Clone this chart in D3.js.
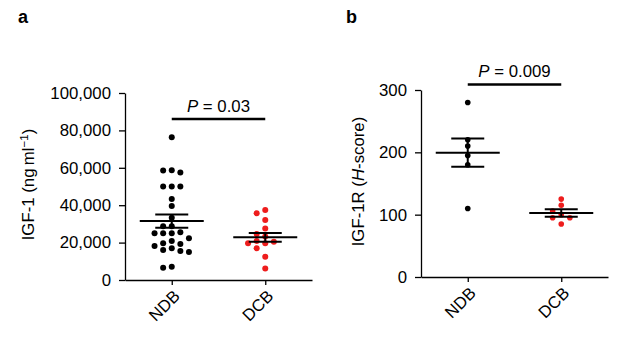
<!DOCTYPE html>
<html>
<head>
<meta charset="utf-8">
<script src="https://cdn.jsdelivr.net/npm/d3@7"></script>
<style>
  html, body { margin: 0; padding: 0; background: #fff; }
  svg { display: block; font-family: "Liberation Sans", Arial, Helvetica, sans-serif; }
</style>
</head>
<body>
<svg id="chart" width="624" height="339"></svg>
<script>
// ---------------- DATA ----------------
const categories = ["NDB", "DCB"];

// Panel a: IGF-1 (ng ml^-1)
const igf1NDB = [76300, 58700, 58500, 57500, 50000, 50000, 50000, 43300, 39600, 33300,
                 28700, 28700, 25500, 25000, 25000, 25000, 22300, 20900, 19600, 19200,
                 18200, 17000, 16000, 15500, 15000, 7100, 6600];
const igf1DCB = [37400, 35700, 32100, 27600, 24600, 23200, 20900, 20500, 19600, 19600,
                 17000, 12500, 6200];
const igf1Mean = [31500, 22800];
const igf1Sem = [3550, 2300];
const igf1Ticks = [0, 20000, 40000, 60000, 80000, 100000];
const igf1P = "0.03";

// Panel b: IGF-1R (H-score)
const igf1rNDB = [280, 220, 210, 195, 180, 110];
const igf1rDCB = [125, 115, 106, 100, 95, 95, 85];
const igf1rMean = [199.5, 102.5];
const igf1rSem = [22.7, 6];
const igf1rTicks = [0, 100, 200, 300];
const igf1rP = "0.009";

// ---------------- DRAW ----------------
const svg = d3.select("#chart");
const FONT = 16.8;

function swarm(values, y, r, colStep) {
  // greedy column beeswarm: same column collides if vertical gap too small
  const placed = [];
  const order = values.map((v, i) => i).sort((a, b) => values[b] - values[a]);
  const out = new Array(values.length);
  const minDy = 2 * r + 0.6;
  const cand = [0, -1, 1, -2, 2, -3, 3, -4, 4];
  order.forEach(i => {
    const py = y(values[i]);
    for (const c of cand) {
      const hit = placed.some(p => p.c === c && Math.abs(p.y - py) < minDy);
      if (!hit) { placed.push({c, y: py}); out[i] = {dx: c * colStep, y: py}; break; }
    }
  });
  return out;
}

function panel(cfg) {
  const g = svg.append("g");
  const x = d3.scalePoint().domain(categories).range([cfg.x0, cfg.x1]).padding(0.5);
  const y = d3.scaleLinear().domain([cfg.ticks[0], cfg.ticks[cfg.ticks.length - 1]]).range([cfg.y0, cfg.y1]);

  // y axis
  const ya = g.append("g").attr("transform", `translate(${cfg.x0},0)`)
    .call(d3.axisLeft(y).tickValues(cfg.ticks).tickFormat(cfg.fmt).tickSize(6).tickSizeOuter(0).tickPadding(8));
  ya.select(".domain").attr("stroke-width", 1.3);
  ya.selectAll(".tick line").attr("stroke-width", 1.3);
  ya.selectAll(".tick text").attr("font-size", FONT).attr("font-family", "Liberation Sans, Arial, sans-serif").attr("fill", "#000");

  // x axis
  const xa = g.append("g").attr("transform", `translate(0,${cfg.y0})`)
    .call(d3.axisBottom(x).tickSize(5).tickSizeOuter(0).tickFormat(""));
  xa.select(".domain").attr("stroke-width", 1.3);
  xa.selectAll(".tick line").attr("stroke-width", 1.3);
  categories.forEach(c => {
    g.append("text")
      .attr("transform", `translate(${x(c) + 5},${cfg.y0 + 13}) rotate(-45)`)
      .attr("text-anchor", "end")
      .attr("dy", "0.35em")
      .attr("font-size", FONT)
      .text(c);
  });

  // dots
  const groups = [cfg.a, cfg.b];
  const colors = ["#000000", "#ee1d1d"];
  groups.forEach((vals, gi) => {
    const pos = swarm(vals, y, cfg.r, 8.6);
    g.append("g").selectAll("circle").data(vals).join("circle")
      .attr("cx", (d, i) => x(categories[gi]) + pos[i].dx)
      .attr("cy", (d, i) => pos[i].y)
      .attr("r", cfg.r)
      .attr("fill", colors[gi]);
  });

  // mean +/- SEM
  categories.forEach((c, i) => {
    const cx = x(c), m = cfg.mean[i], s = cfg.sem[i];
    const lg = g.append("g").attr("stroke", "#000").attr("stroke-width", 2);
    lg.append("line").attr("x1", cx - 32).attr("x2", cx + 32).attr("y1", y(m)).attr("y2", y(m));
    lg.append("line").attr("x1", cx - 16.5).attr("x2", cx + 16.5).attr("y1", y(m + s)).attr("y2", y(m + s));
    lg.append("line").attr("x1", cx - 16.5).attr("x2", cx + 16.5).attr("y1", y(m - s)).attr("y2", y(m - s));
    lg.append("line").attr("x1", cx).attr("x2", cx).attr("y1", y(m + s)).attr("y2", y(m - s));
  });

  // significance bar
  g.append("line").attr("x1", x(categories[0])).attr("x2", x(categories[1]))
    .attr("y1", cfg.sigY).attr("y2", cfg.sigY).attr("stroke", "#000").attr("stroke-width", 2.5);
  const pt = g.append("text").attr("x", (x(categories[0]) + x(categories[1])) / 2).attr("y", cfg.sigY - 7.5)
    .attr("text-anchor", "middle").attr("font-size", FONT);
  pt.append("tspan").attr("font-style", "italic").text("P");
  pt.append("tspan").text(" = " + cfg.p);

  // y label
  const yl = g.append("text")
    .attr("transform", `translate(${cfg.labelX},${(cfg.y0 + cfg.y1) / 2 - 2}) rotate(-90)`)
    .attr("text-anchor", "middle").attr("font-size", FONT);
  cfg.label(yl);

  // panel letter
  g.append("text").attr("x", cfg.letterX).attr("y", 23).attr("font-weight", "bold")
    .attr("font-size", 18).attr("font-family", "Liberation Sans, Arial, sans-serif").text(cfg.letter);
}

panel({
  x0: 125, x1: 312, y0: 280, y1: 93,
  ticks: igf1Ticks, fmt: d3.format(","),
  a: igf1NDB, b: igf1DCB, mean: igf1Mean, sem: igf1Sem,
  r: 3, sigY: 119, p: igf1P, labelX: 34, letter: "a", letterX: 18,
  label: t => {
    t.append("tspan").text("IGF-1 (ng\u2009ml");
    t.append("tspan").attr("font-size", 11.5).attr("dy", "-0.55em").text("\u22121");
    t.append("tspan").attr("dy", "0.35em").text(")");
  }
});

panel({
  x0: 421, x1: 608, y0: 277, y1: 90,
  ticks: igf1rTicks, fmt: d3.format("d"),
  a: igf1rNDB, b: igf1rDCB, mean: igf1rMean, sem: igf1rSem,
  r: 2.8, sigY: 84.5, p: igf1rP, labelX: 364, letter: "b", letterX: 346,
  label: t => {
    t.append("tspan").text("IGF-1R (");
    t.append("tspan").attr("font-style", "italic").text("H");
    t.append("tspan").text("-score)");
  }
});
</script>
</body>
</html>
